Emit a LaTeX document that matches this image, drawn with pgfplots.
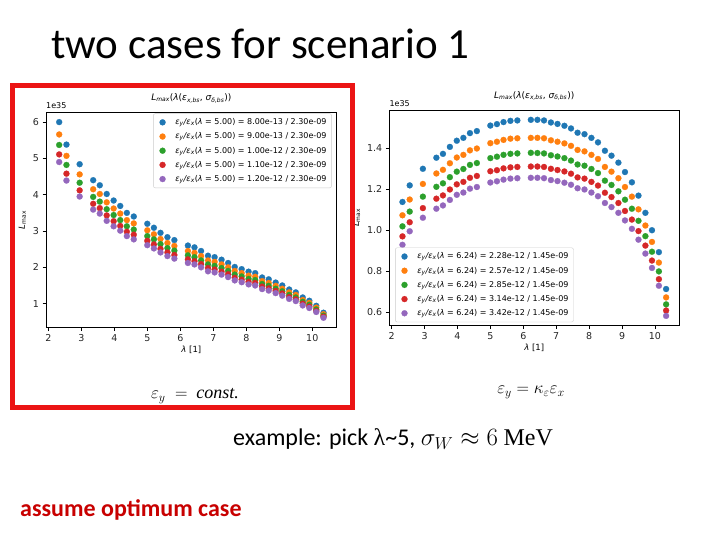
\documentclass[border=0pt]{standalone}
\usepackage{fontspec}
\setmainfont{Carlito}
\newfontfamily\dv{DejaVu Sans}
\newfontfamily\lserif{Liberation Serif}
\usepackage{pgfplots}
\usepackage{pgfplotstable}
\pgfplotsset{compat=1.18}
\definecolor{c0}{HTML}{1F77B4}
\definecolor{c1}{HTML}{FF7F0E}
\definecolor{c2}{HTML}{2CA02C}
\definecolor{c3}{HTML}{D62728}
\definecolor{c4}{HTML}{9467BD}
\definecolor{boxred}{RGB}{235,20,20}
\definecolor{txtred}{RGB}{200,0,0}
\definecolor{leggray}{RGB}{204,204,204}

\pgfplotstableread{
x b o g r p
2.33 6.00 5.66 5.37 5.11 4.90
2.55 5.38 5.07 4.82 4.58 4.39
2.95 4.84 4.56 4.33 4.12 3.95
3.36 4.40 4.15 3.94 3.75 3.59
3.56 4.26 4.02 3.81 3.63 3.48
3.77 4.02 3.79 3.60 3.43 3.28
3.98 3.84 3.62 3.44 3.27 3.13
4.18 3.69 3.48 3.30 3.14 3.01
4.38 3.50 3.30 3.13 2.98 2.86
4.59 3.40 3.21 3.04 2.90 2.77
5.00 3.20 3.02 2.86 2.73 2.61
5.20 3.09 2.91 2.77 2.63 2.52
5.40 2.95 2.78 2.64 2.51 2.41
5.61 2.83 2.67 2.53 2.41 2.31
5.82 2.75 2.59 2.46 2.34 2.24
6.23 2.60 2.45 2.33 2.22 2.12
6.43 2.55 2.40 2.28 2.17 2.08
6.63 2.45 2.31 2.19 2.09 2.00
6.84 2.32 2.19 2.08 1.98 1.89
7.04 2.28 2.15 2.04 1.94 1.86
7.25 2.21 2.08 1.98 1.88 1.80
7.45 2.12 2.00 1.90 1.81 1.73
7.65 2.01 1.90 1.80 1.71 1.64
7.86 1.95 1.84 1.75 1.66 1.59
8.07 1.88 1.77 1.68 1.60 1.53
8.27 1.84 1.74 1.65 1.57 1.50
8.48 1.72 1.62 1.54 1.47 1.40
8.68 1.67 1.57 1.49 1.42 1.36
8.89 1.58 1.49 1.41 1.35 1.29
9.09 1.50 1.41 1.34 1.28 1.22
9.30 1.39 1.31 1.24 1.18 1.13
9.50 1.31 1.24 1.17 1.12 1.07
9.71 1.17 1.10 1.05 1.00 0.95
9.91 1.08 1.02 0.97 0.92 0.88
10.12 0.94 0.89 0.84 0.80 0.77
10.34 0.75 0.71 0.67 0.64 0.61
}\lefttab

\pgfplotstableread{
x b o g r p
2.33 1.137 1.072 1.018 0.969 0.928
2.55 1.218 1.149 1.090 1.038 0.994
2.95 1.299 1.225 1.163 1.107 1.060
3.36 1.353 1.276 1.211 1.153 1.104
3.56 1.372 1.294 1.228 1.169 1.120
3.77 1.406 1.326 1.258 1.198 1.147
3.98 1.436 1.354 1.285 1.223 1.172
4.18 1.450 1.367 1.298 1.235 1.183
4.38 1.473 1.389 1.318 1.255 1.202
4.59 1.483 1.398 1.327 1.264 1.210
5.00 1.510 1.424 1.351 1.287 1.232
5.20 1.517 1.431 1.358 1.292 1.238
5.40 1.527 1.440 1.367 1.301 1.246
5.61 1.533 1.446 1.372 1.306 1.251
5.82 1.535 1.448 1.374 1.308 1.253
6.23 1.538 1.450 1.377 1.310 1.255
6.43 1.538 1.450 1.376 1.310 1.255
6.63 1.535 1.448 1.374 1.308 1.253
6.84 1.525 1.438 1.365 1.299 1.244
7.04 1.518 1.431 1.359 1.293 1.239
7.25 1.509 1.423 1.351 1.286 1.231
7.45 1.496 1.411 1.339 1.275 1.221
7.65 1.475 1.391 1.320 1.257 1.204
7.86 1.468 1.384 1.314 1.251 1.198
8.07 1.450 1.367 1.298 1.235 1.183
8.27 1.428 1.347 1.278 1.217 1.165
8.48 1.387 1.308 1.241 1.182 1.132
8.68 1.363 1.285 1.220 1.161 1.112
8.89 1.329 1.253 1.189 1.132 1.084
9.09 1.283 1.210 1.148 1.093 1.047
9.30 1.233 1.163 1.104 1.051 1.006
9.50 1.168 1.101 1.045 0.995 0.953
9.71 1.084 1.022 0.970 0.924 0.885
9.91 0.999 0.942 0.894 0.851 0.815
10.12 0.892 0.841 0.798 0.760 0.728
10.34 0.712 0.671 0.637 0.607 0.581
}\righttab

\pgfplotsset{
  mpl/.style={
    scale only axis,
    clip mode=individual,
    xmin=1.93, xmax=10.74,
    xtick={2,...,10},
    tick align=outside,
    xtick pos=bottom, ytick pos=left,
    major tick length=3.5pt,
    every tick/.style={black, line width=0.6pt},
    axis line style={line width=0.6pt},
    tick label style={font=\dv\fontsize{9.5}{10}\selectfont, text=black!85},
    /pgf/number format/assume math mode=true,
    label style={font=\dv\fontsize{8.5}{9}\selectfont},
    xlabel style={yshift=3pt},
    title style={font=\dv\fontsize{9}{10}\selectfont},
    scaled y ticks=false,
    legend cell align=left,
    legend style={font=\dv\fontsize{8}{9}\selectfont, draw=leggray, rounded corners=2pt,
      fill=white, inner sep=3pt, row sep=2.6pt, nodes={inner sep=2pt}},
    legend image code/.code={\draw[##1] plot coordinates {(6pt,0pt)}; \path (0pt,0pt) (16.6pt,0pt);},
    every axis plot/.append style={only marks, mark=*, mark size=3pt, mark options={line width=0.2pt}},
  }
}

\newcommand{\ttl}{{\itshape L\textsubscript{max}}(\itshape λ\upshape(\itshape ε\textsubscript{x,bs}\upshape, \itshape σ\textsubscript{δ,bs}\upshape))}
\newcommand{\lent}[2]{{\itshape ε\textsubscript{y}/ε\textsubscript{x}}(\textit{λ} = #1) = #2}

\begin{document}
\begin{tikzpicture}
\path[use as bounding box, fill=white] (0pt,0pt) rectangle (720pt,540pt);

% left plot
\begin{axis}[mpl, at={(46pt,212.4pt)}, anchor=south west,
  width=290.7pt, height=215.3pt,
  ymin=0.34, ymax=6.27, ytick={1,2,3,4,5,6},
  title={\ttl}, xlabel={\textit{λ} [1]}, ylabel={\textit{L}\textsubscript{max}},
  legend style={at={(0.983,0.995)}, anchor=north east}]
\addplot[c0] table[x=x,y=b] {\lefttab};
\addlegendentry{\lent{5.00}{8.00e-13 / 2.30e-09}}
\addplot[c1] table[x=x,y=o] {\lefttab};
\addlegendentry{\lent{5.00}{9.00e-13 / 2.30e-09}}
\addplot[c2] table[x=x,y=g] {\lefttab};
\addlegendentry{\lent{5.00}{1.00e-12 / 2.30e-09}}
\addplot[c3] table[x=x,y=r] {\lefttab};
\addlegendentry{\lent{5.00}{1.10e-12 / 2.30e-09}}
\addplot[c4] table[x=x,y=p] {\lefttab};
\addlegendentry{\lent{5.00}{1.20e-12 / 2.30e-09}}
\node[anchor=south west, inner sep=0pt, yshift=3pt, font=\dv\fontsize{8}{9}\selectfont] at (rel axis cs:0,1) {1e35};
\end{axis}

% right plot
\begin{axis}[mpl, at={(389.3pt,214.3pt)}, anchor=south west,
  width=290pt, height=215.7pt,
  ymin=0.533, ymax=1.586, ytick={0.6,0.8,1.0,1.2,1.4},
  yticklabel style={/pgf/number format/fixed, /pgf/number format/precision=1, /pgf/number format/fixed zerofill},
  title={\ttl}, xlabel={\textit{λ} [1]}, ylabel={\textit{L}\textsubscript{max}},
  legend style={at={(0.02,0.016)}, anchor=south west}]
\addplot[c0] table[x=x,y=b] {\righttab};
\addlegendentry{\lent{6.24}{2.28e-12 / 1.45e-09}}
\addplot[c1] table[x=x,y=o] {\righttab};
\addlegendentry{\lent{6.24}{2.57e-12 / 1.45e-09}}
\addplot[c2] table[x=x,y=g] {\righttab};
\addlegendentry{\lent{6.24}{2.85e-12 / 1.45e-09}}
\addplot[c3] table[x=x,y=r] {\righttab};
\addlegendentry{\lent{6.24}{3.14e-12 / 1.45e-09}}
\addplot[c4] table[x=x,y=p] {\righttab};
\addlegendentry{\lent{6.24}{3.42e-12 / 1.45e-09}}
\node[anchor=south west, inner sep=0pt, yshift=3pt, font=\dv\fontsize{8}{9}\selectfont] at (rel axis cs:0,1) {1e35};
\end{axis}

% slide texts
\node[anchor=base west, inner sep=0pt, font=\fontsize{43}{48}\selectfont] at (51pt,481pt) {two cases for scenario 1};
\draw[boxred, line width=5pt] (12.5pt,454.5pt) rectangle (352.5pt,132.5pt);
\node[anchor=base, inner sep=0pt, font=\fontsize{18}{20}\selectfont] at (195pt,141pt) {$\varepsilon_y\;=\;$ {\lserif\itshape const.}};
\node[anchor=base, inner sep=0pt, font=\fontsize{17}{20}\selectfont] at (531pt,146pt) {$\varepsilon_y=\kappa_\varepsilon\varepsilon_x$};
\node[anchor=base west, inner sep=0pt, font=\fontsize{24}{28}\selectfont] at (233pt,94pt) {example: pick {\lserif λ}\textasciitilde5, $\sigma_W\approx 6$\ {\lserif MeV}};
\node[anchor=base west, inner sep=0pt, text=txtred, font=\bfseries\fontsize{24}{28}\selectfont] at (20pt,23pt) {assume optimum case};
\end{tikzpicture}
\end{document}
